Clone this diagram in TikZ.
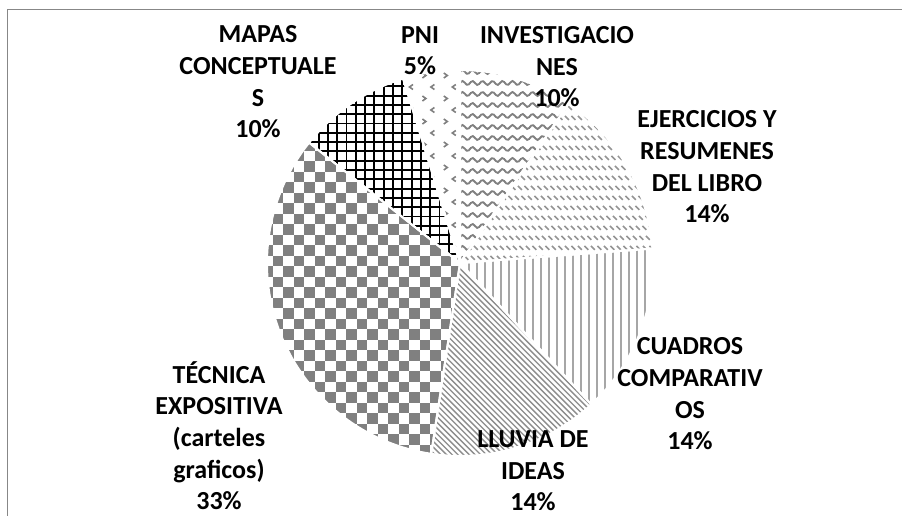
\documentclass[tikz,border=0pt]{standalone}
\usepackage{fontspec}
\setmainfont{Carlito}
\begin{document}
\begin{tikzpicture}[x=0.75pt,y=0.75pt,
  slice/.style 2 args={insert path={(c) -- ++(#1:193) arc[start angle=#1,end angle=#2,radius=193] -- cycle}},
  pat/.style={draw=black!50, line width=1.1pt},
  wave/.style={draw=black!50, line width=1.4pt},
  dsh/.style={draw=black!42, line width=1.1pt},
  vert/.style={draw=black!35, line width=1.5pt},
  diag/.style={draw=black!45, line width=1pt},
  gridl/.style={draw=black, line width=1.4pt},
  gap/.style={draw=white, line width=1.5pt},
  frame/.style={draw=black!47, line width=1.1pt},
  lbl/.style={font=\bfseries\fontsize{19.5pt}{23.8pt}\selectfont, align=center, inner sep=0pt, anchor=base}]
\useasboundingbox (0,0) rectangle (902,516);
\fill[white] (0,0) rectangle (902,516);
\coordinate (c) at (460,253);
% frame
\draw[frame] (7.5,-3) -- (7.5,506.5) -- (905,506.5);
% INVESTIGACIONES: waves
\begin{scope}
\clip[slice={90}{55.714}];
\foreach \k in {0,...,18} \draw[wave] plot[domain=0:125, samples=61, smooth] ({450+\x},{257+\k*11+2*sin(36*\x)});
\end{scope}
% EJERCICIOS: dashed downward diagonals
\begin{scope}
\clip[slice={55.714}{4.286}];
\foreach \k in {0,...,60} \draw[dsh, dash pattern=on 4.2pt off 6.4pt] ({245+\k*6.5},460) -- ++(220,-220);
\end{scope}
% CUADROS: vertical lines
\begin{scope}
\clip[slice={4.286}{-47.143}];
\foreach \k in {0,...,25} \draw[vert] ({461+\k*8},50) -- ++(0,230);
\end{scope}
% LLUVIA: diagonal lines
\begin{scope}
\clip[slice={-47.143}{-98.571}];
\foreach \k in {0,...,66} \draw[diag] ({215+\k*5.7},270) -- ++(230,-230);
\end{scope}
% TECNICA: checkerboard
\begin{scope}
\clip[slice={-98.571}{-218.571}];
\foreach \j in {0,...,31}{
  \pgfmathtruncatemacro\off{mod(\j,2)}
  \foreach \i in {0,...,10}{
    \fill[black!50] ({262+(2*\i+\off)*10.5},{50+\j*10.5}) rectangle ++(10.5,10.5);
  }
}
\end{scope}
% MAPAS: black grid
\begin{scope}
\clip[slice={141.429}{107.143}];
\foreach \k in {0,...,20}{
  \draw[gridl] ({300+\k*9.3},250) -- ++(0,200);
  \draw[gridl] (295,{253+\k*9.3}) -- ++(175,0);
}
\end{scope}
% PNI: divots
\begin{scope}
\clip[slice={107.143}{90}];
\foreach \k in {0,...,16}{
  \foreach \m in {0,...,3}{
    \ifodd\k
      \draw[pat, line width=1.2pt] ({413+\m*21.4},{259+\k*11.5}) -- ++(-3.5,-2.5) -- ++(3.5,-2.5);
    \else
      \draw[pat, line width=1.2pt] ({401+\m*21.4},{259+\k*11.5}) -- ++(3.5,-2.5) -- ++(-3.5,-2.5);
    \fi
  }
}
\end{scope}
% white separators
\foreach \a/\b in {90/55.714, 55.714/4.286, 4.286/-47.143, -47.143/-98.571, -98.571/-218.571, 141.429/107.143, 107.143/90}
  \draw[gap, slice={\a}{\b}];
% labels (anchor = baseline of last line)
\node[lbl] (lmap) at (258,378) {MAPAS\\CONCEPTUALE\\S\\10\%};
\node[lbl] (lpni) at (420,441) {PNI\\5\%};
\node[lbl] (linv) at (557,409) {INVESTIGACIO\\NES\\10\%};
\node[lbl] (leje) at (707,293) {EJERCICIOS Y\\RESUMENES\\DEL LIBRO\\14\%};
\node[lbl] (lcua) at (690,66) {CUADROS\\COMPARATIV\\OS\\14\%};
\node[lbl] (lllu) at (533,5) {LLUVIA DE\\IDEAS\\14\%};
\node[lbl] (ltec) at (219,6) {TÉCNICA\\EXPOSITIVA\\(carteles\\graficos)\\33\%};
\end{tikzpicture}
\end{document}
